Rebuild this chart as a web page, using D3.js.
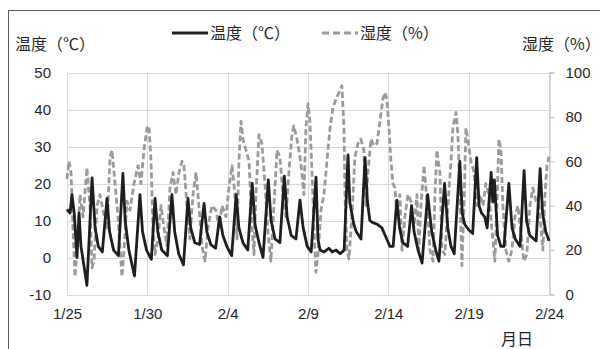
<!DOCTYPE html>
<html><head><meta charset="utf-8">
<script src="https://cdn.jsdelivr.net/npm/d3@7"></script>
<style>
html,body{margin:0;padding:0;background:#fff;}
svg{display:block;font-family:"Liberation Sans",Arial,"Noto Sans CJK JP",sans-serif;}
</style></head><body>
<svg id="c" width="600" height="349"></svg>
<script>
// x tick labels (days from 1/25)
const tickDays = [0, 5, 10, 15, 20, 25, 30];
const tickLabels = ["1/25", "1/30", "2/4", "2/9", "2/14", "2/19", "2/24"];
const tempTicks = [-10, 0, 10, 20, 30, 40, 50];
const humTicks = [0, 20, 40, 60, 80, 100];

// temperature (°C): [day offset from 1/25, value]
const temperature = [
[0.00,13],[0.19,12],[0.31,17],[0.45,12],[0.62,0],[0.75,12],[0.87,3],[1.24,-7.5],[1.56,21.5],[1.75,8],[1.95,3],
[2.2,1.5],[2.49,16],[2.65,7],[2.9,2],[3.2,0.5],[3.48,22.7],[3.62,10],[3.85,2],[4.2,-5],[4.54,17],[4.7,7],[4.95,2],
[5.25,-0.5],[5.48,16],[5.65,7],[5.9,2],[6.25,0.5],[6.53,17],[6.7,7],[6.95,1],[7.25,-2],[7.53,16],[7.7,8],[7.95,4],
[8.25,3.5],[8.53,14.6],[8.7,7],[8.95,3.5],[9.25,2.5],[9.5,11],[9.7,6],[9.95,3],[10.25,0.5],[10.53,17],[10.7,8],[10.95,4],
[11.25,2],[11.53,20],[11.7,9],[11.95,4],[12.2,0],[12.53,21],[12.7,10],[12.95,5],[13.25,4],[13.53,22],[13.7,11],[13.95,6],
[14.25,5],[14.5,15.5],[14.7,8],[14.95,3],[15.2,1.5],[15.5,21.7],[15.62,5],[15.75,2],[16.0,1.5],[16.3,2.5],[16.5,1.5],
[16.75,2],[17.0,1],[17.25,2],[17.49,27.7],[17.6,15],[17.85,9],[18.0,7],[18.3,5],[18.55,27],[18.7,15],[18.85,10],[19.0,9.5],
[19.3,9],[19.6,8],[19.9,5],[20.1,3],[20.3,3],[20.53,15.5],[20.7,8],[20.9,4],[21.2,3],[21.45,14],[21.6,7],[21.85,2],
[22.1,-1.5],[22.45,17],[22.7,7],[22.95,2],[23.15,-1],[23.5,20],[23.7,8],[23.9,3],[24.1,1],[24.45,26],[24.6,12],[24.75,9],
[25.0,7.5],[25.25,6.5],[25.5,27],[25.65,14],[25.8,12],[26.0,11],[26.15,8],[26.4,23],[26.5,15],[26.6,21],[26.8,6],[27.0,3],
[27.2,3],[27.5,20],[27.7,8],[27.9,5],[28.2,3],[28.45,23.5],[28.6,10],[28.8,6],[29.05,5],[29.2,4.5],[29.45,24],[29.6,12],
[29.8,7],[30.0,4.5]
];

// humidity (%): [day offset from 1/25, value]
const humidity = [
[0.00,52],[0.12,60],[0.25,55],[0.37,30],[0.50,8],[0.62,20],[0.81,45],[1.00,35],[1.24,57],[1.43,40],[1.56,12],[1.68,15],
[1.87,40],[2.05,45],[2.24,38],[2.49,30],[2.68,62],[2.80,65],[2.99,50],[3.17,35],[3.36,15],[3.42,8],[3.55,20],[3.73,42],
[3.92,38],[4.17,50],[4.42,58],[4.60,50],[4.79,65],[4.98,75],[5.10,76],[5.23,60],[5.35,30],[5.48,18],[5.66,25],[5.85,40],
[6.04,30],[6.22,22],[6.41,48],[6.60,55],[6.78,45],[6.97,55],[7.16,60],[7.28,58],[7.47,40],[7.65,25],[7.84,45],[8.03,55],
[8.21,40],[8.40,22],[8.59,15],[8.77,30],[9.02,40],[9.27,38],[9.46,30],[9.65,40],[9.89,35],[10.08,48],[10.27,58],[10.45,45],
[10.58,25],[10.70,60],[10.83,78],[10.95,70],[11.14,65],[11.33,60],[11.51,30],[11.64,18],[11.76,45],[11.95,72],[12.13,68],
[12.32,50],[12.51,28],[12.69,15],[12.88,40],[13.07,65],[13.25,62],[13.44,45],[13.63,35],[13.81,55],[14.00,72],[14.12,76],
[14.31,70],[14.50,62],[14.62,55],[14.75,45],[14.87,75],[15.00,86],[15.12,78],[15.25,55],[15.37,30],[15.49,10],[15.62,18],
[15.81,38],[15.99,45],[16.18,60],[16.37,75],[16.55,84],[16.74,88],[16.93,91],[17.11,94],[17.24,75],[17.30,45],[17.42,20],
[17.55,16],[17.73,35],[17.92,62],[18.11,68],[18.29,70],[18.48,65],[18.61,40],[18.73,55],[18.92,70],[19.10,67],[19.29,68],
[19.48,78],[19.66,88],[19.79,91],[19.91,88],[20.04,75],[20.16,60],[20.29,50],[20.41,48],[20.54,35],[20.72,45],[20.85,20],
[21.03,35],[21.22,45],[21.41,42],[21.59,30],[21.78,45],[21.90,20],[22.03,40],[22.22,58],[22.34,48],[22.47,35],[22.59,20],
[22.78,15],[22.90,45],[23.02,65],[23.21,55],[23.34,20],[23.52,18],[23.71,40],[23.90,60],[24.02,75],[24.21,82],[24.33,72],
[24.46,45],[24.58,13],[24.71,40],[24.83,75],[24.95,70],[25.14,60],[25.33,55],[25.51,40],[25.70,45],[25.89,40],[26.07,50],
[26.26,45],[26.44,30],[26.63,15],[26.76,40],[26.88,70],[27.01,65],[27.13,40],[27.32,20],[27.50,15],[27.69,20],[27.88,35],
[28.06,40],[28.25,28],[28.44,15],[28.62,18],[28.81,40],[29.00,48],[29.19,42],[29.37,40],[29.50,30],[29.62,20],[29.75,45],
[29.87,58],[30.00,62]
];

const svg = d3.select("#c");
const L = 67, R = 549, T = 72.5, B = 294.5;
const x = d3.scaleLinear().domain([0, 30]).range([L, R]);
const yT = d3.scaleLinear().domain([-10, 50]).range([B, T]);
const yH = d3.scaleLinear().domain([0, 100]).range([B, T]);
const txt = "#262626", grid = "#d9d9d9";
const numFont = "Liberation Sans, Arial, sans-serif";

// outer frame
svg.append("rect").attr("x", 8.5).attr("y", 10.5).attr("width", 700).attr("height", 500)
  .attr("fill", "none").attr("stroke", "#595959").attr("stroke-width", 1);

// horizontal gridlines
svg.append("g").selectAll("line").data(tempTicks).join("line")
  .attr("x1", L).attr("x2", R).attr("y1", d => Math.round(yT(d)) + 0.5).attr("y2", d => Math.round(yT(d)) + 0.5)
  .attr("stroke", grid).attr("stroke-width", 1);
// vertical gridlines
svg.append("g").selectAll("line").data(tickDays).join("line")
  .attr("y1", T).attr("y2", B).attr("x1", d => Math.round(x(d)) + 0.5).attr("x2", d => Math.round(x(d)) + 0.5)
  .attr("stroke", grid).attr("stroke-width", 1);

// right axis
const ra = svg.append("g").attr("transform", `translate(${Math.round(R) + 0.5},0)`)
  .call(d3.axisRight(yH).tickValues(humTicks).tickSize(5).tickPadding(11));
ra.select(".domain").attr("stroke", "#bfbfbf");
ra.selectAll(".tick line").attr("stroke", "#bfbfbf");
ra.selectAll("text").attr("fill", txt).style("font-size", "15px").style("font-family", numFont);

// left axis labels
const la = svg.append("g").attr("transform", `translate(${L},0)`)
  .call(d3.axisLeft(yT).tickValues(tempTicks).tickFormat(d => String(d)).tickSize(0).tickPadding(16));
la.select(".domain").remove();
la.selectAll("text").attr("fill", txt).style("font-size", "15px").style("font-family", numFont);

// bottom axis labels
const ba = svg.append("g").attr("transform", `translate(0,${B})`)
  .call(d3.axisBottom(x).tickValues(tickDays).tickFormat((d, i) => tickLabels[i]).tickSize(0).tickPadding(14));
ba.select(".domain").remove();
ba.selectAll("text").attr("fill", txt).style("font-size", "15px").style("font-family", numFont);

// lines
const lineT = d3.line().x(d => x(d[0])).y(d => yT(d[1]));
const lineH = d3.line().x(d => x(d[0])).y(d => yH(d[1]));
svg.append("path").datum(humidity).attr("d", lineH).attr("fill", "none")
  .attr("stroke", "#9a9a9a").attr("stroke-width", 2.8).attr("stroke-dasharray", "6,3").attr("stroke-linejoin", "round");
svg.append("path").datum(temperature).attr("d", lineT).attr("fill", "none")
  .attr("stroke", "#1e1e1e").attr("stroke-width", 2.8).attr("stroke-linejoin", "round");

// titles
const fontCJK = "'Noto Sans CJK JP','Liberation Sans',sans-serif";
svg.append("text").attr("x", 15).attr("y", 50).text("温度（℃）").attr("fill", txt)
  .style("font-size", "16px").style("font-family", fontCJK);
svg.append("text").attr("x", 522).attr("y", 50).text("湿度（%）").attr("fill", txt)
  .style("font-size", "16px").style("font-family", fontCJK);
svg.append("text").attr("x", 501).attr("y", 345).text("月日").attr("fill", txt)
  .style("font-size", "16px").style("font-family", fontCJK);

// legend
svg.append("line").attr("x1", 172).attr("x2", 208).attr("y1", 33).attr("y2", 33)
  .attr("stroke", "#1e1e1e").attr("stroke-width", 2.8);
svg.append("text").attr("x", 210).attr("y", 39).text("温度（℃）").attr("fill", txt)
  .style("font-size", "16px").style("font-family", fontCJK);
svg.append("line").attr("x1", 322).attr("x2", 358).attr("y1", 33).attr("y2", 33)
  .attr("stroke", "#9a9a9a").attr("stroke-width", 2.8).attr("stroke-dasharray", "7,4");
svg.append("text").attr("x", 360).attr("y", 39).text("湿度（%）").attr("fill", txt)
  .style("font-size", "16px").style("font-family", fontCJK);
</script>
</body></html>
